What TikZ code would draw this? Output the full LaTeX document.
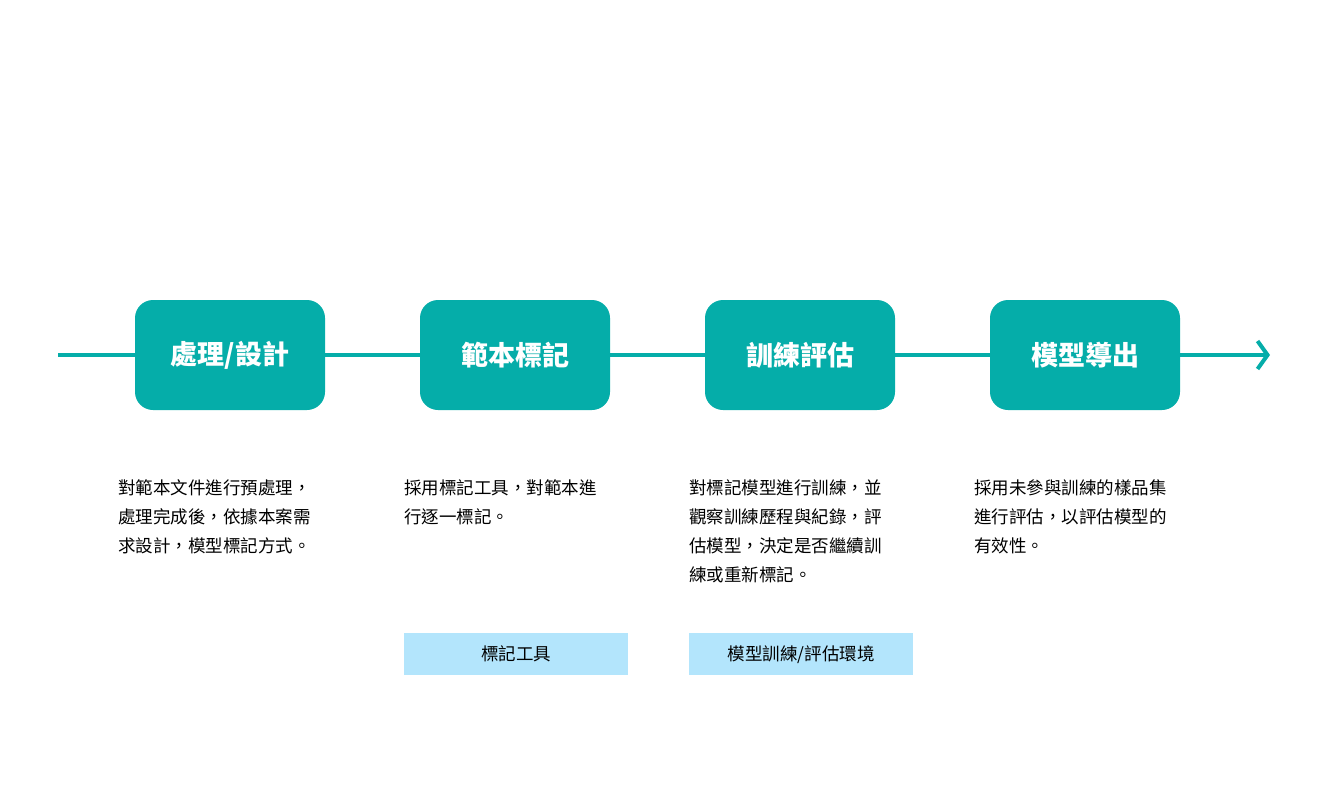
\documentclass[tikz,border=0pt]{standalone}
\usepackage{fontspec}
\setmainfont{Noto Sans CJK TC}
\usetikzlibrary{positioning,arrows.meta}
\definecolor{teal}{HTML}{05ADA9}
\definecolor{tagblue}{HTML}{B3E5FC}
\tikzstyle{step box} = [fill=teal, rectangle, rounded corners=18pt, minimum height=110pt, minimum width=190pt, text=white, font=\fontsize{27}{32}\selectfont\bfseries]
\tikzstyle{desc} = [anchor=north west, align=left, inner sep=0pt, font=\fontsize{17.5}{29}\selectfont]
\tikzstyle{tag} = [fill=tagblue, rectangle, minimum height=42pt, minimum width=224pt, anchor=north west, font=\fontsize{17.5}{21}\selectfont]

\begin{document}
\begin{tikzpicture}[x=1pt,y=-1pt]
		\useasboundingbox (0,0) rectangle (1326,809);
		% start and end of the line
		\coordinate (start) at (58,355);
		\coordinate (stop) at (1270,355);

		% steps
		\node[step box] (prep) at (230,355) {處理/設計};
		\node[step box] (label) at (515,355) {範本標記};
		\node[step box] (train) at (800,355) {訓練評估};
		\node[step box] (export) at (1085,355) {模型導出};

		% the line
		\draw[teal, line width=4pt, -{Straight Barb[length=10pt,width=28pt,line width=4pt]}] (start) -- (prep) -- (label) -- (train) -- (export) -- (stop);

		% descriptions
		\node[desc] (prepdesc) at (118,479) {對範本文件進行預處理，\\處理完成後，依據本案需\\求設計，模型標記方式。};
		\node[desc] (labeldesc) at (404,479) {採用標記工具，對範本進\\行逐一標記。};
		\node[desc] (traindesc) at (689,479) {對標記模型進行訓練，並\\觀察訓練歷程與紀錄，評\\估模型，決定是否繼續訓\\練或重新標記。};
		\node[desc] (exportdesc) at (974,479) {採用未參與訓練的樣品集\\進行評估，以評估模型的\\有效性。};

		% tools
		\node[tag] (labeltool) at (404,633) {標記工具};
		\node[tag] (trainenv) at (689,633) {模型訓練/評估環境};
\end{tikzpicture}
\end{document}
